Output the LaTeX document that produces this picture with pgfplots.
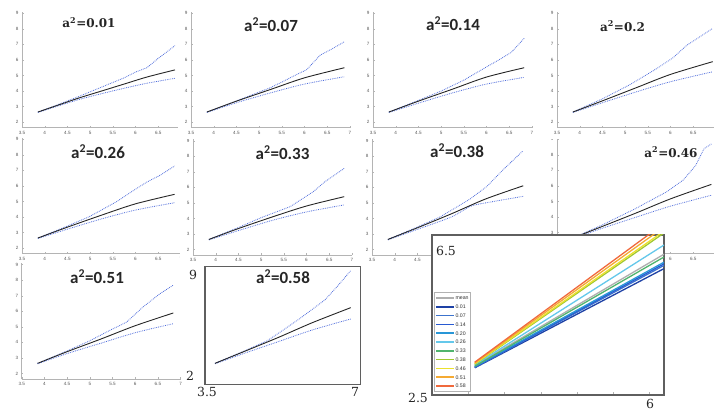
\documentclass[border=0pt]{standalone}
\usepackage{pgfplots}
\pgfplotsset{compat=1.18}
\usepackage{fontspec}
\setmainfont{Liberation Sans}
\newfontfamily\tsans{Carlito}
\newfontfamily\tserif{DejaVu Serif}

\definecolor{bluedot}{RGB}{80,110,220}
\definecolor{axgray}{RGB}{180,180,180}
\definecolor{frame}{RGB}{95,95,95}
\definecolor{cmean}{RGB}{175,175,175}
\definecolor{c01}{RGB}{30,65,165}
\definecolor{c07}{RGB}{60,115,205}
\definecolor{c14}{RGB}{40,90,210}
\definecolor{c20}{RGB}{40,150,215}
\definecolor{c26}{RGB}{100,200,235}
\definecolor{c33}{RGB}{80,180,110}
\definecolor{c38}{RGB}{160,200,50}
\definecolor{c46}{RGB}{235,225,45}
\definecolor{c51}{RGB}{245,170,50}
\definecolor{c58}{RGB}{240,105,60}

\pgfplotsset{
  panel/.style={
    scale only axis, width=158.9pt, height=115.85pt,
    xmin=3.5, xmax=7, ymin=1.65, ymax=9.1,
    axis lines*=left, axis line style={axgray, line width=0.6pt},
    xtick={3.5,4,4.5,5,5.5,6,6.5,7}, ytick={2,3,4,5,6,7,8,9},
    tick style={axgray, line width=0.4pt}, major tick length=1.5pt,
    tick label style={font=\fontsize{4.6}{5}\selectfont, text=black!65},
    /pgf/number format/assume math mode=true,
    anchor=south west,
  },
  up/.style={bluedot, densely dotted, line width=0.8pt},
  lo/.style={bluedot, densely dotted, line width=0.8pt, smooth, tension=0.5},
  mn/.style={black!85, line width=0.9pt, smooth, tension=0.5},
}

\newcommand\panel[5][]{%
  \pgfmathsetmacro\pX{#2}%
  \pgfmathsetmacro\pY{417-#3-114.3}%
  \ifnum#4=1 \fill[white] ({#2pt-13pt},{417pt-#3pt+12pt}) rectangle ({#2pt+175pt},{417pt-#3pt-126pt});\fi
  \begin{axis}[panel, at={(\pX pt,\pY pt)}, #1]
  #5
  \end{axis}}

\newcommand\stitle[3]{\node[font=\tsans\bfseries\fontsize{17}{17}\selectfont, text=black!85, anchor=base] at (#1,{417-#2-5}) {a\textsuperscript{2}=#3};}
\newcommand\rtitle[3]{\node[font=\tserif\bfseries\fontsize{12}{12}\selectfont, text=black!85, anchor=base] at (#1,{417-#2-4.5}) {a\textsuperscript{2}=#3};}
\newcommand\biglab[3]{\node[font=\tserif\fontsize{12.5}{12.5}\selectfont, text=black!85, anchor=base] at (#1,{417-#2-4.5}) {#3};}

\begin{document}
\begin{tikzpicture}[x=1pt,y=1pt]
\useasboundingbox (0,0) rectangle (714,417);
\clip (0,0) rectangle (714,417);
\fill[white] (0,0) rectangle (714,417);

% ---------- row 3, col 1 : a^2=0.51
\panel{21.7}{264.6}{0}{
  \addplot[up] coordinates {(3.85,2.65)(4.5,3.45)(5.0,4.1)(5.44,4.77)(5.81,5.3)(6.17,6.27)(6.55,7.14)(6.84,7.68)};
  \addplot[lo] coordinates {(3.85,2.62)(4.5,3.28)(5.25,3.95)(6.0,4.62)(6.84,5.2)};
  \addplot[mn] coordinates {(3.85,2.65)(4.5,3.4)(5.25,4.22)(6.0,5.07)(6.84,5.89)};
}
\stitle{97}{278.3}{0.51}

% ---------- row 2
\panel{22}{139.3}{0}{
  \addplot[up] coordinates {(3.85,2.65)(4.5,3.42)(5.0,4.05)(5.59,5.0)(5.95,5.7)(6.25,6.25)(6.55,6.7)(6.86,7.28)};
  \addplot[lo] coordinates {(3.85,2.62)(4.5,3.22)(5.25,3.88)(6.0,4.45)(6.86,4.92)};
  \addplot[mn] coordinates {(3.85,2.65)(4.5,3.35)(5.25,4.12)(6.0,4.85)(6.86,5.46)};
}
\stitle{98}{154}{0.26}
\panel{193}{140.7}{1}{
  \addplot[up] coordinates {(3.85,2.65)(4.5,3.42)(5.0,4.05)(5.64,4.76)(6.15,5.72)(6.4,6.35)(6.83,7.22)};
  \addplot[lo] coordinates {(3.85,2.62)(4.5,3.22)(5.25,3.88)(6.0,4.42)(6.83,4.87)};
  \addplot[mn] coordinates {(3.85,2.65)(4.5,3.35)(5.25,4.1)(6.0,4.8)(6.83,5.4)};
}
\stitle{282.5}{154.3}{0.33}
\panel{372}{140.7}{1}{
  \addplot[up] coordinates {(3.85,2.65)(4.5,3.45)(5.0,4.1)(5.29,4.6)(5.66,5.25)(6.03,6.06)(6.39,7.14)(6.83,8.36)};
  \addplot[lo] coordinates {(3.85,2.62)(4.5,3.3)(5.25,4.1)(5.66,4.77)(6.0,5.0)(6.83,5.42)};
  \addplot[mn] coordinates {(3.85,2.65)(4.5,3.4)(5.25,4.3)(6.0,5.25)(6.83,6.1)};
}
\stitle{457}{153}{0.38}
\panel[xtick={3.5,4,4.5,5,5.5,6,6.5}]{557}{139.3}{1}{
  \addplot[up] coordinates {(3.85,2.65)(4.5,3.5)(5.2,4.5)(5.92,5.63)(6.28,6.38)(6.55,7.3)(6.74,8.4)(6.9,8.7)};
  \addplot[lo] coordinates {(3.85,2.62)(4.5,3.28)(5.25,4.0)(6.0,4.7)(6.9,5.4)};
  \addplot[mn] coordinates {(3.85,2.65)(4.5,3.4)(5.25,4.27)(6.0,5.17)(6.9,6.1)};
}
\rtitle{671}{152.7}{0.46}

% ---------- row 1
\panel{22}{13.3}{0}{
  \addplot[up] coordinates {(3.85,2.65)(4.25,3.08)(4.75,3.65)(5.25,4.25)(5.75,4.85)(6.0,5.22)(6.1,5.33)(6.25,5.5)(6.5,6.1)(6.87,6.92)};
  \addplot[lo] coordinates {(3.85,2.62)(4.25,3.0)(4.75,3.45)(5.25,3.83)(5.75,4.18)(6.25,4.5)(6.87,4.82)};
  \addplot[mn] coordinates {(3.85,2.65)(4.25,3.05)(4.75,3.55)(5.25,4.0)(5.75,4.45)(6.25,4.9)(6.87,5.36)};
}
\rtitle{89}{23}{0.01}
\panel{191}{13.3}{1}{
  \addplot[up] coordinates {(3.85,2.65)(4.25,3.08)(4.75,3.65)(5.25,4.22)(5.53,4.62)(5.75,4.95)(6.05,5.38)(6.2,5.85)(6.34,6.3)(6.6,6.7)(6.88,7.17)};
  \addplot[lo] coordinates {(3.85,2.62)(4.5,3.25)(5.25,3.88)(6.0,4.45)(6.88,4.92)};
  \addplot[mn] coordinates {(3.85,2.65)(4.5,3.35)(5.25,4.1)(6.0,4.85)(6.88,5.5)};
}
\stitle{271}{26.7}{0.07}
\panel{373}{13.3}{1}{
  \addplot[up] coordinates {(3.85,2.65)(4.5,3.4)(5.0,4.0)(5.5,4.7)(6.0,5.55)(6.3,6.05)(6.55,6.5)(6.83,7.39)};
  \addplot[lo] coordinates {(3.85,2.62)(4.5,3.22)(5.25,3.88)(6.0,4.45)(6.83,4.88)};
  \addplot[mn] coordinates {(3.85,2.65)(4.5,3.35)(5.25,4.12)(6.0,4.9)(6.83,5.5)};
}
\stitle{453}{25.7}{0.14}
\panel[xtick={3.5,4,4.5,5,5.5,6,6.5}]{557}{13.3}{1}{
  \addplot[up] coordinates {(3.85,2.65)(4.5,3.5)(5.1,4.4)(5.7,5.45)(6.06,6.15)(6.36,6.95)(6.6,7.4)(6.93,8.03)};
  \addplot[lo] coordinates {(3.85,2.62)(4.5,3.25)(5.25,3.95)(6.0,4.6)(6.93,5.24)};
  \addplot[mn] coordinates {(3.85,2.65)(4.5,3.37)(5.25,4.22)(6.0,5.07)(6.93,5.89)};
}
\rtitle{622.5}{26.7}{0.2}

% ---------- big panel a^2=0.58
\begin{axis}[at={(205pt,32.7pt)}, anchor=south west, scale only axis,
  width=155.7pt, height=117.6pt, xmin=3.63, xmax=7.07, ymin=1.30, ymax=8.88,
  axis background/.style={fill=white},
  axis line style={frame, line width=1.3pt}, xtick=\empty, ytick=\empty]
  \addplot[up] coordinates {(3.85,2.65)(4.5,3.45)(5.0,4.1)(5.36,4.8)(5.73,5.55)(6.28,6.74)(6.55,7.6)(6.85,8.63)};
  \addplot[lo] coordinates {(3.85,2.62)(4.5,3.3)(5.25,4.05)(6.0,4.8)(6.85,5.51)};
  \addplot[mn] coordinates {(3.85,2.65)(4.5,3.42)(5.25,4.32)(6.0,5.27)(6.85,6.24)};
\end{axis}
\stitle{283}{279}{0.58}
\biglab{193}{275}{9}
\biglab{190}{376}{2}
\biglab{207}{392}{3.5}
\biglab{355}{392}{7}

% ---------- inset
\begin{axis}[at={(432pt,22pt)}, anchor=south west, scale only axis,
  width=232pt, height=160pt, xmin=3, xmax=6.2, ymin=2.5, ymax=6.5,
  axis background/.style={fill=white},
  axis line style={frame, line width=1.2pt},
  xtick={3.5,4,4.5,5,5.5,6}, xticklabels={}, ytick=\empty,
  xtick pos=bottom, tick align=inside, tick style={black!30, line width=0.4pt}, major tick length=2.5pt,
  legend cell align=left,
  legend image code/.code={\draw[#1, line width=1.5pt] (0pt,0pt) -- (18pt,0pt);},
  legend style={at={(0.008,0.02)}, anchor=south west, draw=black!30, line width=0.4pt,
    font=\fontsize{5.2}{5.5}\selectfont, text=black!80, inner sep=1.2pt, row sep=0pt,
    nodes={inner sep=0.8pt, text height=5.6pt, text depth=1.6pt}},
]
  \addplot[cmean, line width=1.3pt] coordinates {(3.59,3.24)(6.2,6.02)}; \addlegendentry{mean}
  \addplot[c01, line width=1.3pt] coordinates {(3.59,3.18)(6.2,5.66)}; \addlegendentry{0.01}
  \addplot[c07, line width=1.3pt] coordinates {(3.59,3.19)(6.2,5.74)}; \addlegendentry{0.07}
  \addplot[c14, line width=1.3pt] coordinates {(3.59,3.2)(6.2,5.78)}; \addlegendentry{0.14}
  \addplot[c20, line width=1.3pt] coordinates {(3.59,3.21)(6.2,5.82)}; \addlegendentry{0.20}
  \addplot[c26, line width=1.3pt] coordinates {(3.59,3.25)(6.2,6.25)}; \addlegendentry{0.26}
  \addplot[c33, line width=1.3pt] coordinates {(3.59,3.22)(6.2,5.95)}; \addlegendentry{0.33}
  \addplot[c38, line width=1.3pt] coordinates {(3.59,3.27)(6.2,6.55)}; \addlegendentry{0.38}
  \addplot[c46, line width=1.3pt] coordinates {(3.59,3.28)(6.2,6.6)}; \addlegendentry{0.46}
  \addplot[c51, line width=1.3pt] coordinates {(3.59,3.3)(6.2,6.7)}; \addlegendentry{0.51}
  \addplot[c58, line width=1.3pt] coordinates {(3.59,3.32)(6.2,6.79)}; \addlegendentry{0.58}
\end{axis}
\biglab{446}{251}{6.5}
\biglab{418}{398}{2.5}
\biglab{650}{404}{6}
\end{tikzpicture}
\end{document}
